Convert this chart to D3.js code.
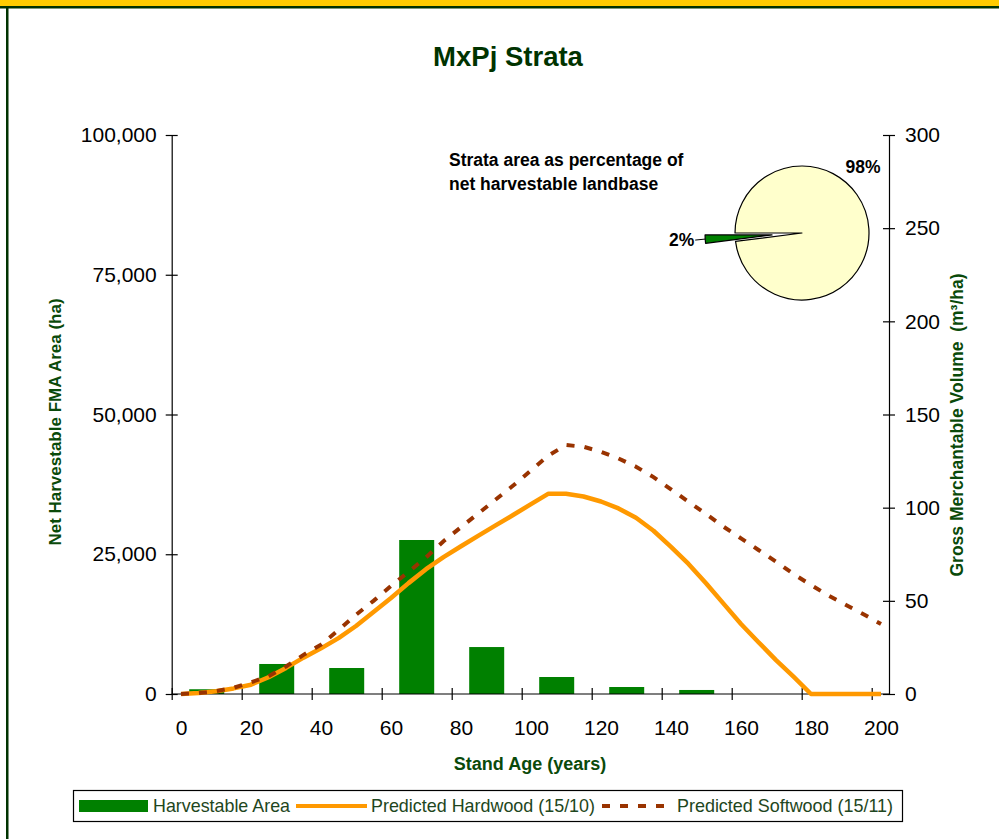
<!DOCTYPE html>
<html lang="en">
  <head>
    <meta charset="UTF-8" />
    <title>MxPj Strata</title>
    <script src="https://d3js.org/d3.v7.min.js"></script>
    <style>
      body {
        margin: 0;
        background: #fff;
      }
      svg {
        display: block;
        font-family: "Liberation Sans", Arial, sans-serif;
      }
    </style>
  </head>
  <body>
    <div id="chart"></div>
    <script>
      // ---- data ----
      const ageTicks = [0, 20, 40, 60, 80, 100, 120, 140, 160, 180, 200]
      const areaTicks = [0, 25000, 50000, 75000, 100000]
      const volumeTicks = [0, 50, 100, 150, 200, 250, 300]

      // 20-year age classes (start of class) and harvestable area (ha)
      const classStart = [0, 20, 40, 60, 80, 100, 120, 140, 160, 180]
      const harvestArea = [850, 5370, 4650, 27550, 8400, 3040, 1250, 720, 0, 0]

      // yield curves, m3/ha
      const curveAges = [0, 5, 10, 15, 20, 25, 30, 35, 40, 45, 50, 55, 60, 65, 70, 75, 80, 85, 90, 95, 100,
        105, 110, 115, 120, 125, 130, 135, 140, 145, 150, 155, 160, 165, 170, 175, 180, 185, 190, 195, 200]
      const hardwood = [0, 0.5, 1.5, 3, 5, 9, 14, 19.5, 24.5, 30, 36.5, 44, 51.5, 59.5, 67, 73.5, 79.3, 85, 90.6, 96.2, 101.9,
        107.5, 107.5, 106, 103.3, 99.6, 94.6, 87.6, 79, 69.8, 59.4, 48.5, 37.6, 27.8, 18.2, 9.3, 0, 0, 0, 0, 0]
      const softwood = [0, 0.5, 1.5, 3.3, 6.3, 9.5, 14.8, 21, 26.5, 34.3, 42.5, 50, 58, 65.5, 73.3, 82, 89.5, 97, 104.5, 112, 120,
        128, 133.6, 132.7, 130, 126.4, 122, 116.4, 109.8, 103.2, 96.6, 89.8, 83.5, 77.3, 71, 64.4, 58.5, 52.8, 47.8, 42.8, 37.6]

      // strata share of net harvestable landbase (%)
      const strataShare = [98, 2]
      const strataLabels = ["98%", "2%"]

      const seriesNames = ["Harvestable Area", "Predicted Hardwood (15/10)", "Predicted Softwood (15/11)"]

      // ---- layout ----
      const width = 999,
        height = 839
      const green = "#008000",
        orange = "#FF9900",
        brown = "#993300",
        titleGreen = "#003300",
        labelGreen = "#0a4a0a"

      const svg = d3.select("#chart").append("svg").attr("width", width).attr("height", height)

      // page frame
      svg.append("rect").attr("x", 0).attr("y", 0).attr("width", width).attr("height", 6).attr("fill", "#FFCC00")
      svg.append("rect").attr("x", 0).attr("y", 6).attr("width", width).attr("height", 2.5).attr("fill", titleGreen)
      svg.append("rect").attr("x", 6).attr("y", 6).attr("width", 2.5).attr("height", height).attr("fill", titleGreen)

      const x = d3.scaleLinear().domain([0, 200]).range([171.7, 871.7])
      const xLine = d3.scaleLinear().domain([0, 200]).range([181, 881])
      const yArea = d3.scaleLinear().domain([0, 100000]).range([694, 135])
      const yVol = d3.scaleLinear().domain([0, 300]).range([694, 135])
      const plotRight = 889

      // title
      svg
        .append("text")
        .attr("x", 508)
        .attr("y", 66)
        .attr("text-anchor", "middle")
        .attr("font-size", 27.5)
        .attr("font-weight", "bold")
        .attr("fill", titleGreen)
        .text("MxPj Strata")

      // bars
      const classW = x(20) - x(0)
      svg
        .selectAll(".bar")
        .data(classStart.map((s, i) => ({ s, v: harvestArea[i] })).filter(d => d.v > 0))
        .enter()
        .append("rect")
        .attr("class", "bar")
        .attr("x", d => x(d.s) + classW / 4)
        .attr("width", classW / 2)
        .attr("y", d => yArea(d.v))
        .attr("height", d => yArea(0) - yArea(d.v))
        .attr("fill", green)

      // axes
      const styleAxis = g => {
        g.attr("font-family", null).attr("font-size", null)
        g.selectAll("text").attr("font-size", 21).attr("fill", "#000")
        g.selectAll("line, path").attr("stroke", "#000").attr("stroke-width", 1.2)
      }

      svg
        .append("g")
        .attr("transform", `translate(${x(0)},0)`)
        .call(d3.axisLeft(yArea).tickValues(areaTicks).tickFormat(d3.format(",")).tickSize(6).tickSizeOuter(0).tickPadding(9))
        .call(styleAxis)
        .call(g => g.selectAll(".tick line").attr("x1", 6))

      svg
        .append("g")
        .attr("transform", `translate(${plotRight},0)`)
        .call(d3.axisRight(yVol).tickValues(volumeTicks).tickSize(6).tickSizeOuter(0).tickPadding(10))
        .call(styleAxis)
        .call(g => g.selectAll(".tick line").attr("x1", -6))

      svg
        .append("line")
        .attr("x1", x(0))
        .attr("x2", plotRight)
        .attr("y1", yArea(0))
        .attr("y2", yArea(0))
        .attr("stroke", "#000")
        .attr("stroke-width", 1.2)

      svg
        .append("g")
        .attr("transform", `translate(0,${yArea(0)})`)
        .call(d3.axisBottom(x).tickValues(ageTicks).tickFormat("").tickSize(6).tickSizeOuter(0))
        .call(styleAxis)
        .call(g => g.select(".domain").remove())
        .call(g => g.selectAll(".tick line").attr("y1", -6))

      svg
        .append("g")
        .attr("transform", `translate(0,${yArea(0)})`)
        .call(d3.axisBottom(xLine).tickValues(ageTicks).tickSize(0).tickPadding(26))
        .call(styleAxis)
        .call(g => g.select(".domain").remove())

      // axis titles
      svg
        .append("text")
        .attr("transform", "translate(61,422) rotate(-90)")
        .attr("text-anchor", "middle")
        .attr("font-size", 17)
        .attr("font-weight", "bold")
        .attr("fill", labelGreen)
        .text("Net Harvestable FMA Area (ha)")

      svg
        .append("text")
        .attr("transform", "translate(963,425) rotate(-90)")
        .attr("text-anchor", "middle")
        .attr("font-size", 17.5)
        .attr("font-weight", "bold")
        .attr("fill", labelGreen)
        .attr("xml:space", "preserve")
        .text("Gross Merchantable Volume  (m³/ha)")

      svg
        .append("text")
        .attr("x", 530)
        .attr("y", 770)
        .attr("text-anchor", "middle")
        .attr("font-size", 18)
        .attr("font-weight", "bold")
        .attr("fill", labelGreen)
        .text("Stand Age (years)")

      // yield curves
      const hwPts = curveAges.map((a, i) => ({ a, v: hardwood[i] }))
      const swPts = curveAges.map((a, i) => ({ a, v: softwood[i] }))
      const line = d3
        .line()
        .x(d => xLine(d.a))
        .y(d => yVol(d.v))

      svg
        .append("path")
        .datum(hwPts)
        .attr("d", line)
        .attr("fill", "none")
        .attr("stroke", orange)
        .attr("stroke-width", 4.5)
        .attr("stroke-linejoin", "round")

      svg
        .append("path")
        .datum(swPts)
        .attr("d", line)
        .attr("fill", "none")
        .attr("stroke", brown)
        .attr("stroke-width", 4)
        .attr("stroke-dasharray", "8 10")

      // pie inset
      svg
        .append("text")
        .attr("font-size", 17.5)
        .attr("font-weight", "bold")
        .attr("fill", "#000")
        .selectAll("tspan")
        .data(["Strata area as percentage of", "net harvestable landbase"])
        .enter()
        .append("tspan")
        .attr("x", 449)
        .attr("y", (d, i) => 166 + i * 24)
        .text(d => d)

      const pieCx = 802,
        pieCy = 233,
        pieR = 67,
        explode = 30
      const pie = d3
        .pie()
        .sort(null)
        .startAngle(Math.PI * 1.5)
        .endAngle(Math.PI * 3.5)
      const arc = d3.arc().innerRadius(0).outerRadius(pieR)
      const slices = pie(strataShare)
      const pieG = svg.append("g").attr("transform", `translate(${pieCx},${pieCy})`)

      const offset = (d, dist) => {
        const m = (d.startAngle + d.endAngle) / 2
        return [Math.sin(m) * dist, -Math.cos(m) * dist]
      }

      pieG
        .selectAll(".slice")
        .data(slices)
        .enter()
        .append("path")
        .attr("class", "slice")
        .attr("transform", (d, i) => (i === 1 ? `translate(${offset(d, explode)})` : null))
        .attr("d", arc)
        .attr("fill", (d, i) => (i === 0 ? "#FFFFCC" : green))
        .attr("stroke", "#000")
        .attr("stroke-width", 1.2)
        .attr("stroke-linejoin", "round")

      // slice labels
      const small = slices[1]
      pieG
        .append("text")
        .attr("x", 61)
        .attr("y", -60)
        .attr("text-anchor", "middle")
        .attr("font-size", 17.5)
        .attr("font-weight", "bold")
        .text(strataLabels[0])

      const edge = offset(small, pieR + explode)
      pieG
        .append("line")
        .attr("x1", edge[0])
        .attr("y1", edge[1])
        .attr("x2", edge[0] - 10)
        .attr("y2", edge[1] + 1)
        .attr("stroke", "#000")
        .attr("stroke-width", 1)
      pieG
        .append("text")
        .attr("x", edge[0] - 11)
        .attr("y", edge[1] + 7)
        .attr("text-anchor", "end")
        .attr("font-size", 17.5)
        .attr("font-weight", "bold")
        .text(strataLabels[1])

      // legend
      const legend = svg.append("g")
      legend
        .append("rect")
        .attr("x", 73.5)
        .attr("y", 790.5)
        .attr("width", 829)
        .attr("height", 31)
        .attr("fill", "#fff")
        .attr("stroke", "#000")
        .attr("stroke-width", 1.2)

      legend.append("rect").attr("x", 79).attr("y", 800).attr("width", 69).attr("height", 12).attr("fill", green)
      legend
        .append("line")
        .attr("x1", 296)
        .attr("x2", 367)
        .attr("y1", 806)
        .attr("y2", 806)
        .attr("stroke", orange)
        .attr("stroke-width", 4)
      legend
        .append("line")
        .attr("x1", 602)
        .attr("x2", 673)
        .attr("y1", 806)
        .attr("y2", 806)
        .attr("stroke", brown)
        .attr("stroke-width", 4)
        .attr("stroke-dasharray", "8 10")

      const legendText = [
        { x: 153, w: 137 },
        { x: 371, w: 224 },
        { x: 677, w: 216 }
      ]
      legend
        .selectAll(".ltext")
        .data(seriesNames)
        .enter()
        .append("text")
        .attr("class", "ltext")
        .attr("x", (d, i) => legendText[i].x)
        .attr("y", 812)
        .attr("font-size", 18.5)
        .attr("fill", "#1e4620")
        .attr("textLength", (d, i) => legendText[i].w)
        .attr("lengthAdjust", "spacingAndGlyphs")
        .text(d => d)
    </script>
  </body>
</html>
